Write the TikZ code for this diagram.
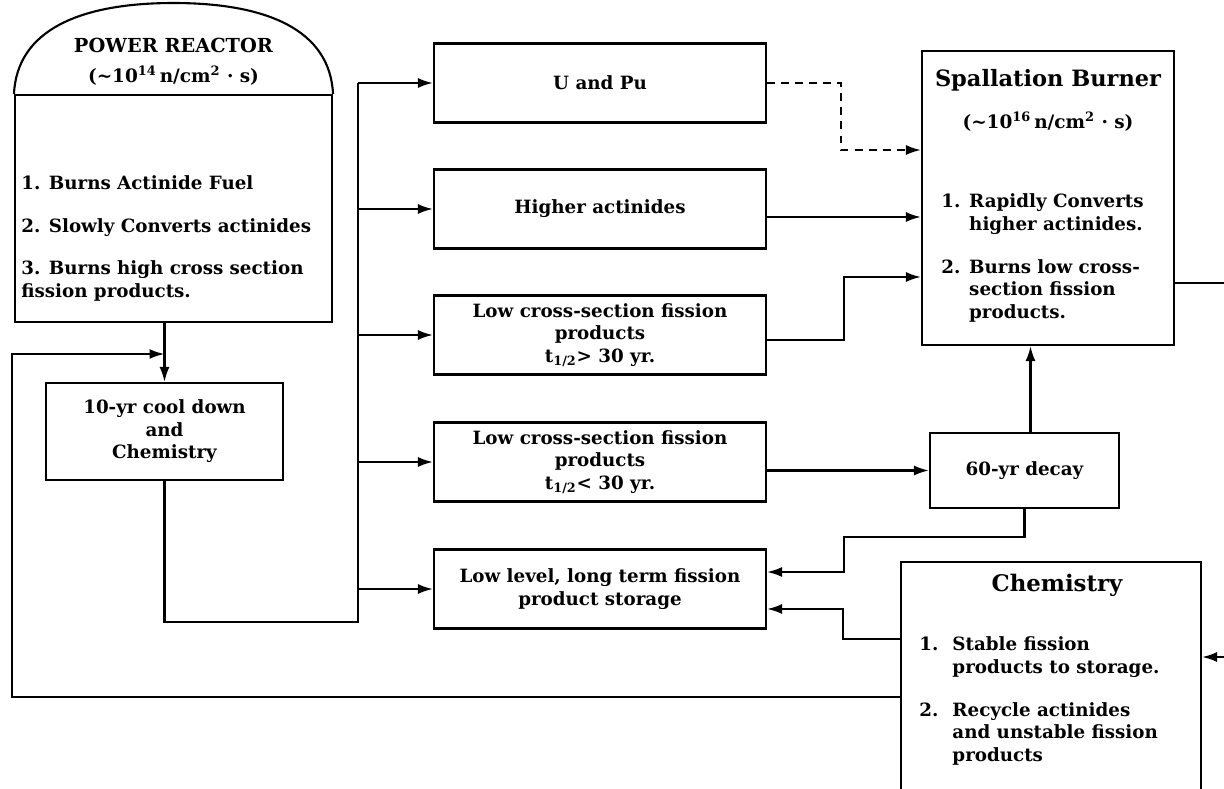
\documentclass[tikz,border=0pt]{standalone}
\usepackage{fontspec}
\setmainfont{DejaVu Serif}
\usetikzlibrary{arrows.meta,positioning}

\begin{document}
\begin{tikzpicture}[x=0.02cm,y=-0.02cm,
  box/.style={draw,line width=1.2pt,minimum width=6.64cm,minimum height=1.58cm,align=center,
              font=\bfseries\fontsize{10.4}{12.8}\selectfont,inner sep=2pt},
  bigbox/.style={draw,line width=1.2pt,inner sep=0pt},
  head/.style={font=\bfseries\fontsize{11}{13}\selectfont},
  flux/.style={font=\bfseries\fontsize{10.5}{12}\selectfont},
  items/.style={align=left,anchor=north west,inner sep=0pt,font=\bfseries\fontsize{10.4}{13}\selectfont},
  line/.style={line width=1.2pt},
  arr/.style={-{Latex[length=3mm,width=2mm]},line width=1.2pt}]
  \useasboundingbox (0,0) rectangle (1224,788);

  % reactor with dome
  \node[bigbox,minimum width=6.34cm,minimum height=4.54cm] (reactor) at (173.5,208.5) {};
  \draw[line] (reactor.north west) .. controls (17,30) and (80,3) .. (173.5,3)
              .. controls (267,3) and (330,30) .. (reactor.north east);
  \node[head] (rtitle) at (173.5,45) {POWER REACTOR};
  \node[flux] (rflux) at (173.5,76) {(\textasciitilde10\textsuperscript{14}\,n/cm\textsuperscript{2} · s)};
  \node[items] (rlist) at (21,175) {1. Burns Actinide Fuel\\[11.4pt]
    2. Slowly Converts actinides\\[11.4pt]
    3. Burns high cross section\\fission products.};

  \node[box,minimum width=4.74cm,minimum height=1.94cm] (cool) at (164.5,431.5) {10-yr cool down\\and\\Chemistry};

  % middle column
  \node[box] (upu) at (600,83) {U and Pu};
  \node[box] (higher) at (600,209) {Higher actinides};
  \node[box] (lowlong) at (600,335) {Low cross-section fission\\products\\t\textsubscript{1/2}> 30 yr.};
  \node[box] (lowshort) at (600,462) {Low cross-section fission\\products\\t\textsubscript{1/2}< 30 yr.};
  \node[box] (storage) at (600,589) {Low level, long term fission\\product storage};

  % spallation burner
  \node[bigbox,minimum width=5.04cm,minimum height=5.88cm] (spall) at (1048,198) {};
  \node[head,font=\bfseries\fontsize{12.8}{14}\selectfont] (stitle) at (1048,80) {Spallation Burner};
  \node[flux] (sflux) at (1048,122) {(\textasciitilde10\textsuperscript{16}\,n/cm\textsuperscript{2} · s)};
  \node[items] (slist) at (941,191) {\begin{tabular}{@{}r@{\hspace{5pt}}l@{}}
    1. & Rapidly Converts\\ & higher actinides.\\[11.4pt]
    2. & Burns low cross-\\ & section fission\\ & products.\end{tabular}};

  \node[box,minimum width=3.78cm,minimum height=1.5cm] (decay) at (1024.5,470.5) {60-yr decay};

  % chemistry
  \node[bigbox,minimum width=6cm,minimum height=5cm] (chem) at (1051,687) {};
  \node[head,font=\bfseries\fontsize{13}{15}\selectfont] (ctitle) at (1057,585) {Chemistry};
  \node[items] (clist) at (919,634) {\begin{tabular}{@{}r@{\hspace{8pt}}l@{}}
    1. & Stable fission\\ & products to storage.\\[11.4pt]
    2. & Recycle actinides\\ & and unstable fission\\ & products\end{tabular}};

  \coordinate (bus) at (358,622);
  \coordinate (fb) at (12,354);
  \coordinate (k1) at (844,537);
  \coordinate (outR) at (1224,283);
  \coordinate (inR) at (1224,657);

  \draw[arr] (reactor.south -| cool.north) -- (cool.north);
  \draw[arr] ([yshift=-0.2cm]chem.west) -| (fb) -- (fb -| cool.north);
  \draw[line] (cool.south) |- (bus) -- (bus |- upu.west);
  \foreach \b in {upu,higher,lowlong,lowshort,storage}
    \draw[arr] (bus |- \b.west) -- (\b.west);

  \draw[arr,dash pattern=on 4.5pt off 3.5pt] (upu.east) -- ++(74,0) |- ([yshift=0.96cm]spall.west);
  \draw[arr] ([yshift=-0.16cm]higher.east) -- ([yshift=-0.16cm]higher.east -| spall.west);
  \draw[arr] ([yshift=-0.1cm]lowlong.east) -- ++(77,0) |- ([yshift=-1.58cm]spall.west);
  \draw[line] (spall.east |- outR) -- (outR);
  \draw[arr] (lowshort.east |- decay.west) -- (decay.west);
  \draw[arr] ([xshift=0.12cm]decay.north) -- ([xshift=0.12cm]decay.north |- spall.south);
  \draw[arr] (decay.south) |- (k1) |- ([yshift=0.34cm]storage.east);
  \draw[arr] ([yshift=0.96cm]chem.west) -- ++(-57,0) |- ([yshift=-0.4cm]storage.east);
  \draw[arr] (inR) -- (inR -| chem.east);
\end{tikzpicture}
\end{document}
